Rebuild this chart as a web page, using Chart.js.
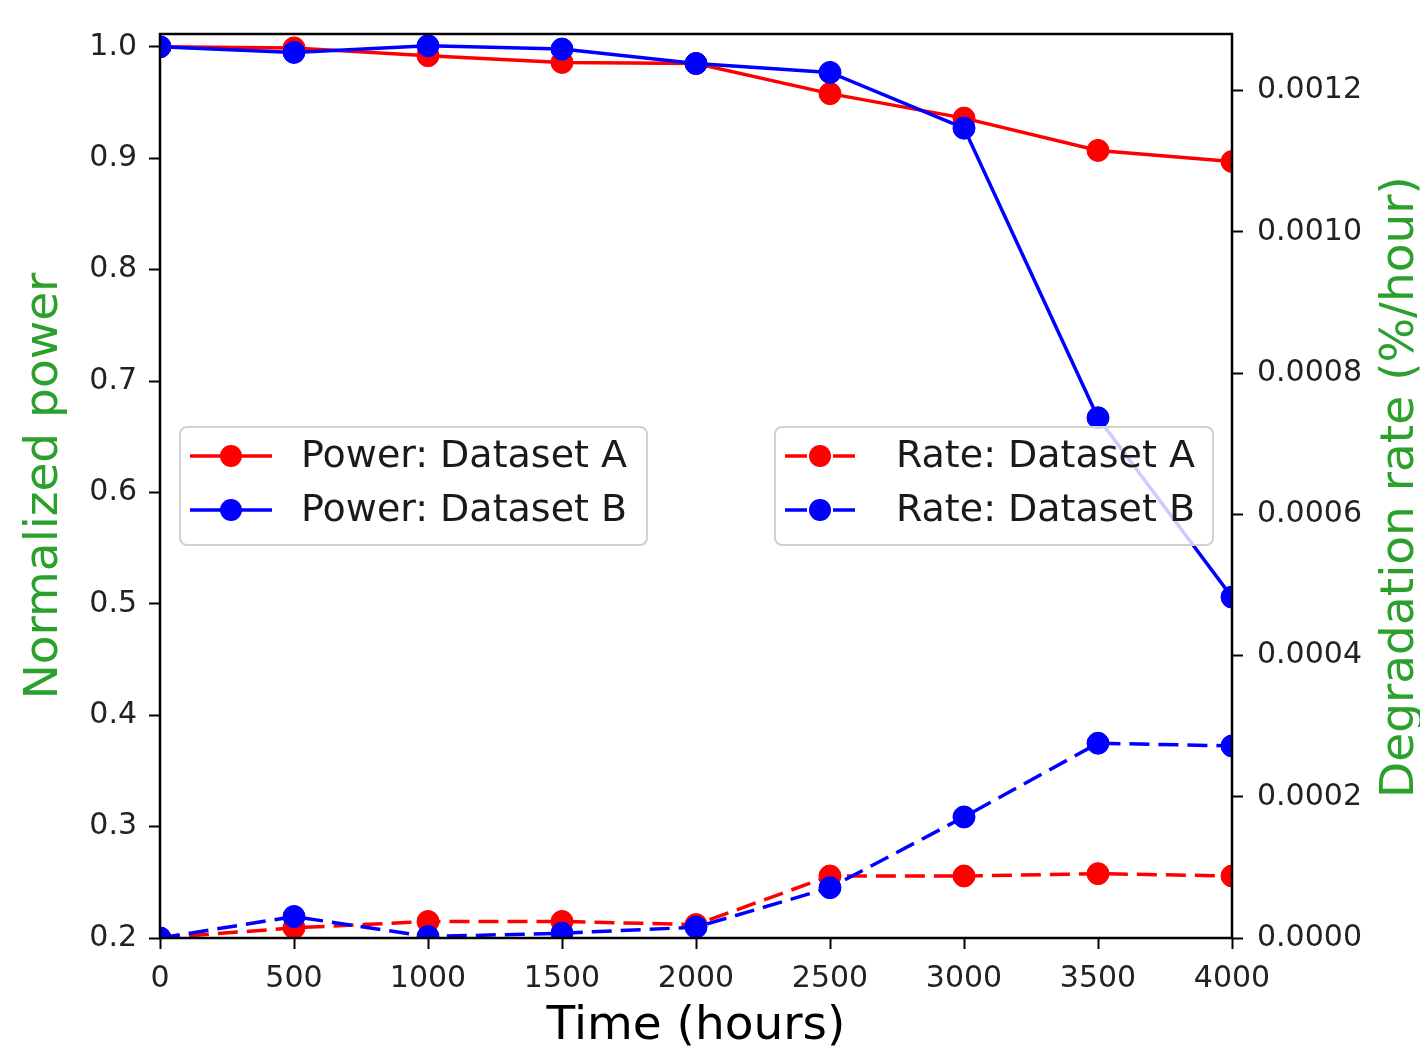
<!DOCTYPE html>
<html>
<head>
<meta charset="utf-8">
<title>Normalized power and degradation rate</title>
<script src="https://cdn.jsdelivr.net/npm/chart.js@4.4.0/dist/chart.umd.min.js"></script>
<style>
  html, body { margin: 0; padding: 0; background: #fff; }
  #wrap { width: 1420px; height: 1051px; }
</style>
</head>
<body>
<div id="wrap"><canvas id="powerChart" width="1420" height="1051"></canvas></div>
<script>
// data
const hours = [0, 500, 1000, 1500, 2000, 2500, 3000, 3500, 4000];
const powerA = [1.000, 0.999, 0.992, 0.986, 0.985, 0.958, 0.936, 0.907, 0.897];
const powerB = [1.000, 0.995, 1.001, 0.998, 0.985, 0.977, 0.927, 0.667, 0.506];
const rateA = [0.0, 0.0000144, 0.0000234, 0.0000234, 0.000019, 0.0000878, 0.0000878, 0.0000911, 0.0000878];
const rateB = [0.0, 0.0000304, 0.000002, 0.0000068, 0.0000153, 0.0000712, 0.0001714, 0.0002758, 0.000272];

// tick labels
const xTicks = [0, 500, 1000, 1500, 2000, 2500, 3000, 3500, 4000];
const leftTicks = [0.2, 0.3, 0.4, 0.5, 0.6, 0.7, 0.8, 0.9, 1.0];
const leftTickLabels = ["0.2", "0.3", "0.4", "0.5", "0.6", "0.7", "0.8", "0.9", "1.0"];
const rightTicks = [0, 0.0002, 0.0004, 0.0006, 0.0008, 0.0010, 0.0012];
const rightTickLabels = ["0.0000", "0.0002", "0.0004", "0.0006", "0.0008", "0.0010", "0.0012"];

const seriesLabels = ["Power: Dataset A", "Power: Dataset B", "Rate: Dataset A", "Rate: Dataset B"];

const FONT = "'DejaVu Sans', sans-serif";
const GREEN = "#2ca02c";

function toPoints(ys) {
  return hours.map((h, i) => ({ x: h, y: ys[i] }));
}

function makeSeries(label, ys, color, axis, dashed, order) {
  return {
    label: label,
    data: toPoints(ys),
    yAxisID: axis,
    borderColor: color,
    backgroundColor: color,
    pointBackgroundColor: color,
    pointBorderColor: color,
    pointBorderWidth: 1,
    pointRadius: 11,
    borderWidth: 3.5,
    borderDash: dashed ? [20, 9] : [],
    tension: 0,
    fill: false,
    clip: 0,
    order: order,
  };
}

// frame, right axis title and the two legends
const extras = {
  id: "extras",
  afterDatasetsDraw(chart) {
    const ctx = chart.ctx;
    const a = chart.chartArea;
    ctx.save();
    ctx.strokeStyle = "#000";
    ctx.lineWidth = 2.5;
    ctx.strokeRect(a.left, a.top, a.right - a.left, a.bottom - a.top);
    ctx.restore();

    drawLegend(chart, [0, 1], { x: 180, y: 427, w: 467, h: 118 }, false);
    drawLegend(chart, [2, 3], { x: 775, y: 427, w: 438, h: 118 }, true);
  },
  afterDraw(chart) {
    const ctx = chart.ctx;
    ctx.save();
    ctx.translate(1413, 487);
    ctx.rotate(-Math.PI / 2);
    ctx.fillStyle = GREEN;
    ctx.font = "47px " + FONT;
    ctx.textAlign = "center";
    ctx.textBaseline = "alphabetic";
    ctx.fillText("Degradation rate (%/hour)", 0, 0);
    ctx.restore();
  },
};

function drawLegend(chart, idx, box, dashed) {
  const ctx = chart.ctx;
  ctx.save();
  ctx.beginPath();
  ctx.roundRect(box.x, box.y, box.w, box.h, 7);
  ctx.fillStyle = "rgba(255,255,255,0.8)";
  ctx.fill();
  ctx.strokeStyle = "#d0d0d0";
  ctx.lineWidth = 2;
  ctx.stroke();

  idx.forEach((di, row) => {
    const ds = chart.data.datasets[di];
    const cy = box.y + 29 + row * 54;
    const hx = box.x + 10;
    const hw = dashed ? 70 : 82;
    ctx.strokeStyle = ds.borderColor;
    ctx.lineWidth = 3.5;
    ctx.setLineDash(dashed ? [22, 26] : []);
    ctx.beginPath();
    ctx.moveTo(hx, cy);
    ctx.lineTo(hx + hw, cy);
    ctx.stroke();
    ctx.setLineDash([]);
    ctx.fillStyle = ds.borderColor;
    ctx.beginPath();
    ctx.arc(hx + hw / 2, cy, 11, 0, Math.PI * 2);
    ctx.fill();

    ctx.fillStyle = "#1a1a1a";
    ctx.font = "38px " + FONT;
    ctx.textAlign = "left";
    ctx.textBaseline = "middle";
    ctx.fillText(ds.label, box.x + 121, cy + 1);
  });
  ctx.restore();
}

const ctx = document.getElementById("powerChart").getContext("2d");
const powerChart = new Chart(ctx, {
  type: "line",
  data: {
    datasets: [
      makeSeries(seriesLabels[0], powerA, "#ff0000", "y", false, 4),
      makeSeries(seriesLabels[1], powerB, "#0000ff", "y", false, 3),
      makeSeries(seriesLabels[2], rateA, "#ff0000", "y1", true, 2),
      makeSeries(seriesLabels[3], rateB, "#0000ff", "y1", true, 1),
    ],
  },
  options: {
    responsive: false,
    animation: false,
    layout: { padding: { top: 34, left: 0, right: 0, bottom: 0 } },
    plugins: {
      legend: { display: false },
      tooltip: { enabled: false },
    },
    scales: {
      x: {
        type: "linear",
        position: "bottom",
        min: 0,
        max: 4000,
        afterBuildTicks: (s) => { s.ticks = xTicks.map((v) => ({ value: v })); },
        afterFit: (s) => { s.height = 113; },
        ticks: {
          font: { family: FONT, size: 30 },
          color: "#222",
          padding: 12,
          maxRotation: 0,
          autoSkip: false,
          callback: (v) => String(v),
        },
        grid: { drawOnChartArea: false, drawTicks: true, tickLength: 11, tickColor: "#000", tickWidth: 2 },
        border: { display: false },
        title: {
          display: true,
          text: "Time (hours)",
          color: "#000",
          font: { family: FONT, size: 47, lineHeight: 1.03 },
          padding: { top: 0, bottom: 0 },
        },
      },
      y: {
        type: "linear",
        position: "left",
        min: 0.2,
        max: 1.0115,
        afterBuildTicks: (s) => { s.ticks = leftTicks.map((v) => ({ value: v })); },
        afterFit: (s) => { s.width = 160; },
        ticks: {
          font: { family: FONT, size: 30 },
          color: "#222",
          padding: 12,
          callback: (v, i) => leftTickLabels[i],
        },
        grid: { drawOnChartArea: false, drawTicks: true, tickLength: 11, tickColor: "#000", tickWidth: 2 },
        border: { display: false },
        title: {
          display: true,
          text: "Normalized power",
          color: GREEN,
          font: { family: FONT, size: 47, lineHeight: 1.03 },
          padding: { top: 21, bottom: 0 },
        },
      },
      y1: {
        type: "linear",
        position: "right",
        min: 0,
        max: 0.00128,
        afterBuildTicks: (s) => { s.ticks = rightTicks.map((v) => ({ value: v })); },
        afterFit: (s) => { s.width = 188; },
        ticks: {
          font: { family: FONT, size: 30 },
          color: "#222",
          padding: 14,
          callback: (v, i) => rightTickLabels[i],
        },
        grid: { drawOnChartArea: false, drawTicks: true, tickLength: 11, tickColor: "#000", tickWidth: 2 },
        border: { display: false },
      },
    },
  },
  plugins: [extras],
});
</script>
</body>
</html>
